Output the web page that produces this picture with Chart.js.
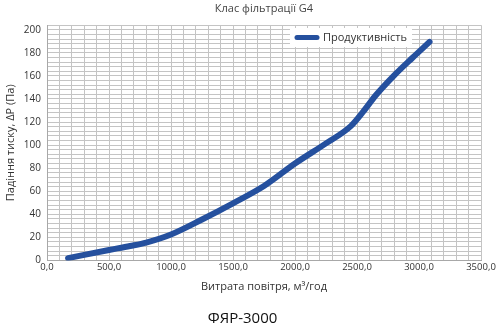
<!DOCTYPE html>
<html>
<head>
<meta charset="utf-8">
<script src="https://cdn.jsdelivr.net/npm/chart.js@4.4.1/dist/chart.umd.min.js"></script>
<style>
  html, body { margin: 0; padding: 0; background: #fff; }
  #wrap { width: 500px; height: 330px; }
</style>
</head>
<body>
<div id="wrap"><canvas id="c" width="500" height="330"></canvas></div>
<script>
const flowValues = [170, 500, 670, 800, 1000, 1250, 1500, 1750, 2000, 2250, 2450, 2550, 2650, 2800, 2950, 3085];
const pressureValues = [2, 9, 12.5, 15.5, 22.5, 35.5, 49.5, 64.5, 84, 101.5, 116.5, 129, 143, 160.5, 176, 189.5];
const seriesLabel = 'Продуктивність';
const chartTitle = 'Клас фільтрації G4';
const modelName = 'ФЯР-3000';
const xAxisTitle = 'Витрата повітря, м³/год';
const yAxisTitle = 'Падіння тиску, ΔР (Па)';

const FONT = "'Open Sans', 'DejaVu Sans', sans-serif";
const LINE_COLOR = '#25509e';

const insideLegend = {
  id: 'insideLegend',
  afterDraw(chart) {
    const ctx = chart.ctx;
    const x0 = 290, y0 = 28, w = 122, h = 19;
    ctx.save();
    ctx.fillStyle = '#ffffff';
    ctx.fillRect(x0, y0, w, h);
    ctx.strokeStyle = LINE_COLOR;
    ctx.lineWidth = 5;
    ctx.lineCap = 'round';
    ctx.beginPath();
    ctx.moveTo(x0 + 7, y0 + h / 2);
    ctx.lineTo(x0 + 27, y0 + h / 2);
    ctx.stroke();
    ctx.fillStyle = '#333';
    ctx.font = "11px " + FONT;
    ctx.textBaseline = 'middle';
    ctx.fillText(chart.data.datasets[0].label, x0 + 33, y0 + h / 2 + 0.5);
    ctx.restore();
  }
};

new Chart(document.getElementById('c'), {
  type: 'line',
  data: {
    datasets: [{
      label: seriesLabel,
      data: flowValues.map((x, i) => ({ x: x, y: pressureValues[i] })),
      borderColor: LINE_COLOR,
      backgroundColor: LINE_COLOR,
      borderWidth: 6,
      borderCapStyle: 'round',
      borderJoinStyle: 'round',
      pointRadius: 0,
      cubicInterpolationMode: 'monotone',
      fill: false
    }]
  },
  options: {
    responsive: false,
    animation: false,
    layout: { padding: { left: 4, right: 19, top: 0, bottom: 2 } },
    plugins: {
      legend: { display: false },
      tooltip: { enabled: false },
      title: {
        display: true,
        text: chartTitle,
        fullSize: false,
        color: '#444',
        font: { family: FONT, size: 11, weight: 'normal' },
        padding: { top: 2, bottom: 10 }
      },
      subtitle: {
        display: true,
        text: modelName,
        position: 'bottom',
        color: '#111',
        font: { family: FONT, size: 15, weight: 'normal' },
        padding: { top: 17, bottom: 0 }
      }
    },
    scales: {
      x: {
        type: 'linear',
        min: 0,
        max: 3500,
        border: { display: true, color: '#a8a8a8', width: 1 },
        grid: { color: '#c4c4c4', lineWidth: 1, drawTicks: false },
        ticks: {
          stepSize: 100,
          autoSkip: false,
          maxRotation: 0,
          padding: 1,
          color: '#333',
          font: { family: FONT, size: 9.5 },
          callback: (v) => (v % 500 === 0 ? v.toFixed(1).replace('.', ',') : '')
        },
        title: {
          display: true,
          text: xAxisTitle,
          color: '#333',
          font: { family: FONT, size: 11 },
          padding: { top: 6, bottom: 0 }
        }
      },
      y: {
        type: 'linear',
        min: 0,
        max: 204,
        border: { display: true, color: '#a8a8a8', width: 1 },
        grid: { color: '#c4c4c4', lineWidth: 1, drawTicks: false },
        ticks: {
          stepSize: 4,
          autoSkip: false,
          padding: 6,
          color: '#333',
          font: { family: FONT, size: 10 },
          callback: (v) => (v % 20 === 0 ? String(v) : '')
        },
        title: {
          display: true,
          text: yAxisTitle,
          color: '#333',
          font: { family: FONT, size: 11 },
          padding: { top: 0, bottom: 2 }
        },
        afterFit: (s) => { s.width = 43; }
      }
    }
  },
  plugins: [insideLegend]
});
</script>
</body>
</html>
